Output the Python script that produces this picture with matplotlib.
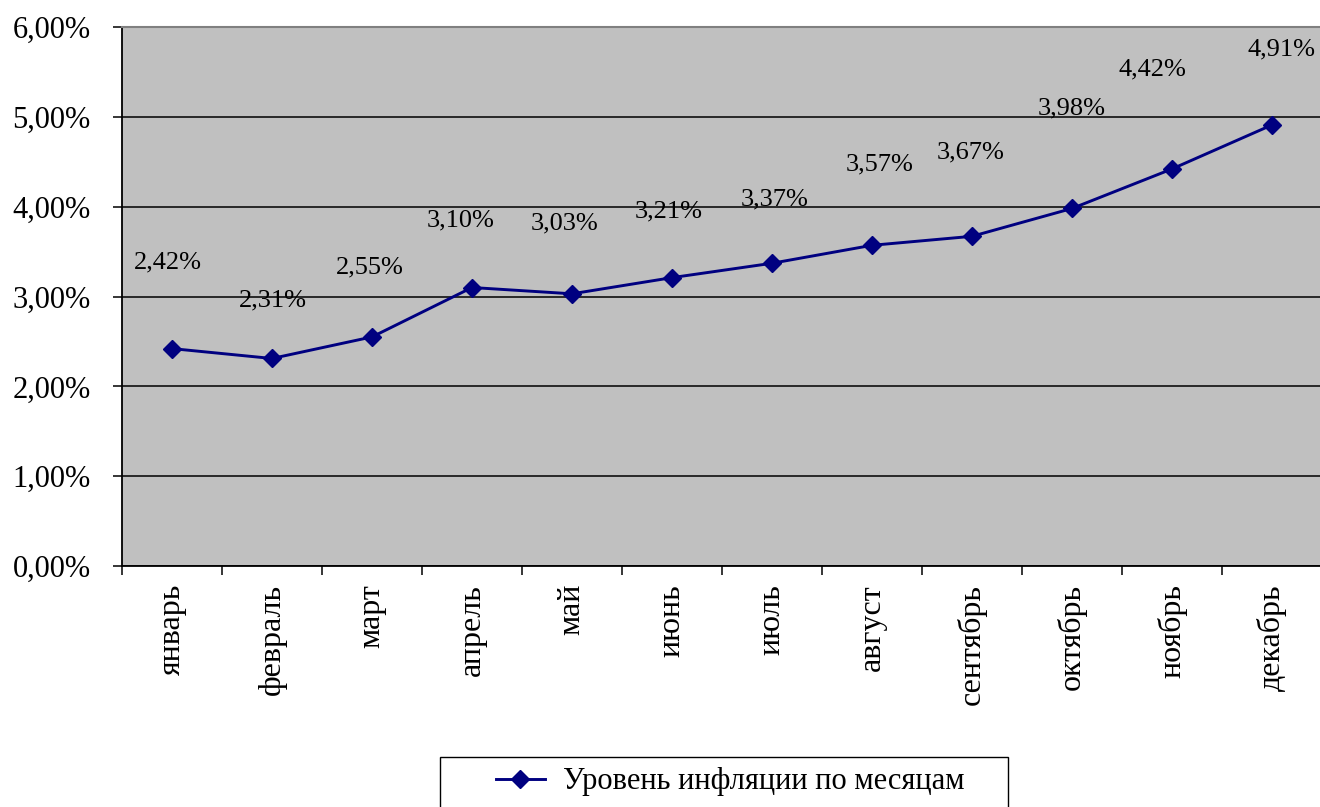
import matplotlib

matplotlib.use("Agg")
import matplotlib.pyplot as plt
from matplotlib.lines import Line2D
from matplotlib.patches import Rectangle
from matplotlib.ticker import FixedLocator, FuncFormatter

months = [
    "январь", "февраль", "март", "апрель", "май", "июнь",
    "июль", "август", "сентябрь", "октябрь", "ноябрь", "декабрь",
]
inflation_pct = [2.42, 2.31, 2.55, 3.10, 3.03, 3.21, 3.37, 3.57, 3.67, 3.98, 4.42, 4.91]
series_name = "Уровень инфляции по месяцам"

# label offsets in pixels (dx, dy) from each point, as placed in the original
label_offsets = [
    (-4, 86), (1, 58), (-2, 69), (-11, 67), (-7, 70), (-3, 66),
    (3, 64), (8, 81), (-1, 84), (0, 100), (-20, 99), (10, 75),
]

NAVY = "#000080"
W, H = 1320, 807

plt.rcParams["font.family"] = ["Liberation Serif", "DejaVu Serif"]


def pct(v, _pos=None):
    return f"{v:.2f}%".replace(".", ",")


fig = plt.figure(figsize=(W / 100, H / 100), dpi=100)
ax = fig.add_axes([122 / W, 1 - 566 / H, 1200 / W, 539 / H])
ax.set_facecolor("#c0c0c0")

x = list(range(len(months)))
ax.plot(x, inflation_pct, color=NAVY, linewidth=2.1, marker="D",
        markersize=9, markerfacecolor=NAVY, markeredgecolor=NAVY, zorder=3)

for xi, v, (dx, dy) in zip(x, inflation_pct, label_offsets):
    ax.annotate(pct(v), (xi, v), xytext=(dx * 0.72, dy * 0.72),
                textcoords="offset points", ha="center", va="center",
                fontsize=19, color="black", annotation_clip=False)

ax.set_xlim(-0.5, len(months) - 0.5)
ax.set_ylim(0, 6)

# gridlines
ax.yaxis.set_major_locator(FixedLocator([0, 1, 2, 3, 4, 5, 6]))
ax.yaxis.set_major_formatter(FuncFormatter(pct))
ax.grid(axis="y", color="black", linewidth=1.1)
ax.set_axisbelow(True)

ax.tick_params(axis="y", direction="out", length=6.5, width=1.1,
               pad=16, labelsize=22, colors="black")

ax.set_xticks(x)
ax.set_xticklabels(months, rotation=90, va="top", ha="center")
ax.tick_params(axis="x", which="major", length=0, pad=13, labelsize=23)
ax.set_xticks([i - 0.5 for i in range(len(months) + 1)], minor=True)
ax.tick_params(axis="x", which="minor", direction="out", length=6.5, width=1.1)

for side in ("left", "bottom"):
    ax.spines[side].set_color("black")
    ax.spines[side].set_linewidth(1.3)
ax.spines["top"].set_color("#808080")
ax.spines["top"].set_linewidth(1.5)
ax.spines["right"].set_visible(False)

# legend box, its bottom falls outside the image
fig.patches.append(Rectangle((440 / W, 0 - 5 / H), 568 / W, 55 / H,
                             transform=fig.transFigure, facecolor="white",
                             edgecolor="black", linewidth=1.0))
handle = Line2D([], [], color=NAVY, linewidth=2.1, marker="D",
                markersize=9, markerfacecolor=NAVY)
fig.legend([handle], [series_name], loc="center",
           bbox_to_anchor=(730 / W, 1 - 782 / H), frameon=False,
           fontsize=22, handlelength=1.6, handletextpad=0.6)

fig.savefig("out.png", dpi=100)
